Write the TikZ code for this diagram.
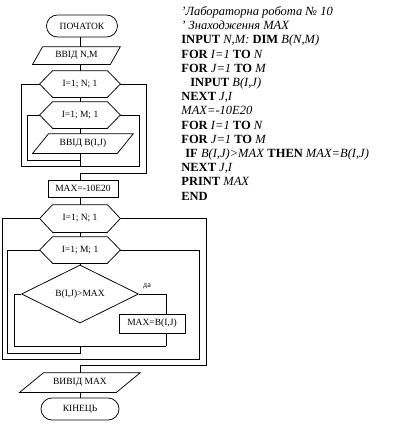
\documentclass[tikz,border=0pt]{standalone}
\usepackage{fontspec}
\setmainfont{Liberation Serif}
\usetikzlibrary{shapes.geometric}
\newcommand\kw[1]{\textbf{#1}}
\newcommand\vr[1]{\textit{#1}}
\newcommand\drawpara[2]{\draw (#1.south west) -- ([xshift=#2pt]#1.north west) -- (#1.north east) -- ([xshift=-#2pt]#1.south east) -- cycle;}
\newcommand\drawhexa[1]{\draw (#1.west) -- ([xshift=13pt]#1.north west) -- ([xshift=-13pt]#1.north east) -- (#1.east) -- ([xshift=-13pt]#1.south east) -- ([xshift=13pt]#1.south west) -- cycle;}
\tikzset{
  fc/.style={font=\fontsize{9.5}{11}\selectfont, inner sep=0pt},
  term/.style={fc, draw, rectangle, rounded corners=11pt, minimum height=22pt},
  proc/.style={fc, draw, rectangle},
  paranode/.style={fc, rectangle},
  hexnode/.style={fc, rectangle, minimum width=80pt, minimum height=26pt},
  decis/.style={fc, draw, diamond, minimum width=117pt, minimum height=52pt},
  code/.style={font=\fontsize{12.5}{14}\selectfont, inner sep=0pt, anchor=base west},
  conn/.style={line width=0.75pt}
}
\begin{document}
\begin{tikzpicture}[x=1pt, y=-1pt, line width=0.75pt]
\useasboundingbox (0,0) rectangle (408,424);
\coordinate (ax) at (80,0);
\coordinate (yescol) at (166,0);
% group 1
\node[term, minimum width=71pt] (start) at (82,26) {ПОЧАТОК};
\node[paranode, minimum width=87pt, minimum height=17pt] (in1) at (76.5,55.5) {ВВІД N,M};
\node[hexnode] (hex1) at (80,84) {I=1; N; 1};
\node[hexnode] (hex2) at (80,115) {I=1; M; 1};
\node[paranode, minimum width=100pt, minimum height=19pt] (in2) at (83,143.5) {ВВІД B(I,J)};
\node[proc, minimum width=70pt, minimum height=17pt] (max1) at (83,188.5) {MAX=-10E20};
% group 2
\node[hexnode, minimum height=27pt] (hex3) at (80,218.5) {I=1; N; 1};
\node[hexnode] (hex4) at (80,250) {I=1; M; 1};
\node[decis] (dia) at (80,294) {B(I,J)>MAX};
\node[proc, minimum width=66pt, minimum height=19pt] (max2) at (152,323.5) {MAX=B(I,J)};
\node[paranode, minimum width=120pt, minimum height=19pt] (out) at (80,382.5) {ВИВІД MAX};
\node[term, minimum width=78pt] (end) at (80,409) {КІНЕЦЬ};
\node[font=\fontsize{8}{9}\selectfont, inner sep=0pt] (yes) at (147,286) {да};
\drawpara{in1}{10}
\drawpara{in2}{16}
\drawpara{out}{24}
\drawhexa{hex1}
\drawhexa{hex2}
\drawhexa{hex3}
\drawhexa{hex4}
% corner coordinates
\coordinate (k1) at (80,160);
\coordinate (j1) at (80,166);
\coordinate (a2) at (27,160);
\coordinate (b2) at (139,166);
\coordinate (a1) at (21,166);
\coordinate (b1) at (146,173);
\coordinate (c1) at (80,173);
\coordinate (n2) at (14,346);
\coordinate (m2) at (166,346);
\coordinate (k2) at (80,346);
\coordinate (j2) at (80,353);
\coordinate (a4) at (7,353);
\coordinate (b4) at (199,359);
\coordinate (a3) at (2,359);
\coordinate (b3) at (206,365);
\coordinate (c3) at (80,365);
% connectors group 1
\draw[conn] (start.south -| ax) -- (in1.north -| ax);
\draw[conn] (in1.south -| ax) -- (hex1.north);
\draw[conn] (hex1.south) -- (hex2.north);
\draw[conn] (hex2.south) -- (in2.north -| ax);
\draw[conn] (in2.south -| ax) -- (j1);
\draw[conn] (k1) -- (a2) |- (hex2.west);
\draw[conn] (hex2.east) -| (b2) -- (a1) |- (hex1.west);
\draw[conn] (hex1.east) -| (b1) -- (c1) -- (max1.north -| ax);
% connectors group 2
\draw[conn] (max1.south -| ax) -- (hex3.north);
\draw[conn] (hex3.south) -- (hex4.north);
\draw[conn] (hex4.south) -- (dia.north);
\draw[conn] (dia.east) -| (max2.north -| yescol);
\draw[conn] (max2.south -| yescol) -- (m2);
\draw[conn] (dia.west) -| (n2) -- (m2);
\draw[conn] (k2) -- (j2) -- (a4) |- (hex4.west);
\draw[conn] (hex4.east) -| (b4) -- (a3) |- (hex3.west);
\draw[conn] (hex3.east) -| (b3) -- (c3) -- (out.north -| ax);
\draw[conn] (out.south -| ax) -- (end.north);
% code listing
\node[code] (l1) at (181,15.5) {\vr{'Лабораторна робота № 10}};
\node[code] (l2) at (181,29.7) {\vr{' Знаходження MAX}};
\node[code] (l3) at (181,43.9) {\kw{INPUT} \vr{N,M:} \kw{DIM} \vr{B(N,M)}};
\node[code] (l4) at (181,58.1) {\kw{FOR} \vr{I=1} \kw{TO} \vr{N}};
\node[code] (l5) at (181,72.3) {\kw{FOR} \vr{J=1} \kw{TO} \vr{M}};
\node[code] (l6) at (190,86.5) {\kw{INPUT} \vr{B(I,J)}};
\node[code] (l7) at (181,100.7) {\kw{NEXT} \vr{J,I}};
\node[code] (l8) at (181,114.9) {\vr{MAX=-10E20}};
\node[code] (l9) at (181,129.1) {\kw{FOR} \vr{I=1} \kw{TO} \vr{N}};
\node[code] (l10) at (181,143.3) {\kw{FOR} \vr{J=1} \kw{TO} \vr{M}};
\node[code] (l11) at (185,157.5) {\kw{IF} \vr{B(I,J)>MAX} \kw{THEN} \vr{MAX=B(I,J)}};
\node[code] (l12) at (181,171.7) {\kw{NEXT} \vr{J,I}};
\node[code] (l13) at (181,185.9) {\kw{PRINT} \vr{MAX}};
\node[code] (l14) at (181,200.1) {\kw{END}};
\end{tikzpicture}
\end{document}
